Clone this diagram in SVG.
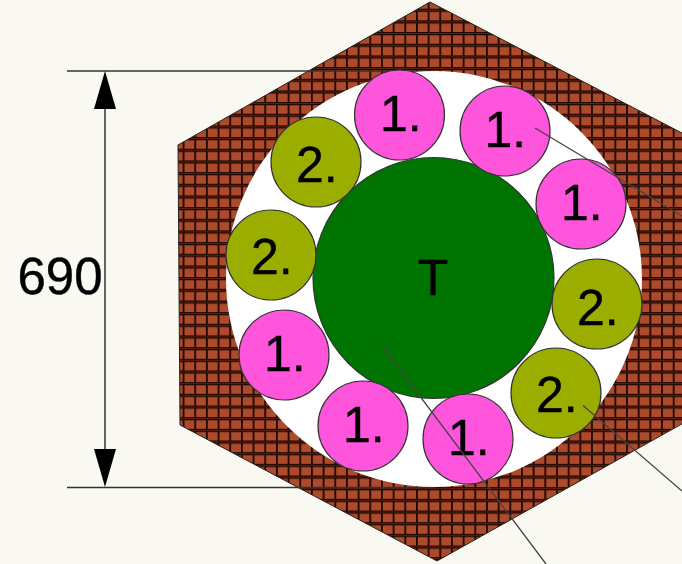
<svg xmlns="http://www.w3.org/2000/svg" width="682" height="564" viewBox="0 0 682 564">
<style>
.c{stroke:#333;stroke-width:1.2}
.p{fill:#ff55dd}
.o{fill:#9bae00}
text{font-family:"Liberation Sans",Arial,sans-serif;font-size:50px;fill:#000;stroke:#000;stroke-width:.4}
.d{stroke:#333;stroke-width:1.5;fill:none}
.l{stroke:#444;stroke-width:1.3;fill:none}
</style>
<defs>
<pattern id="brick" patternUnits="userSpaceOnUse" x="381" y="8.700" width="11.67" height="11.67">
<rect width="11.67" height="11.67" fill="#ad4a2c"/>
<rect y="0" width="11.67" height="3.200" fill="#1c0600"/>
<rect y="1.200" width="11.67" height=".8" fill="#6e2a14"/>
<rect x="0" y="3" width="1.800" height="8.670" fill="#1c0600"/>
</pattern>
</defs>
<rect width="682" height="564" fill="#f9f9f1"/>
<g id="hexagon"><polygon points="430,2 780,184 780,369 437,561 180,425 178,145" fill="url(#brick)" stroke="#222" stroke-width="1"/></g>
<g id="connectors-dim">
<path class="d" d="M67 71H434M67 487.500H434M105 105V453"/>
<polygon points="105,71 116,109 94,109" fill="#000"/>
<polygon points="105,487 116,449 94,449" fill="#000"/>
</g>
<g id="ring"><circle cx="434" cy="279" r="208" fill="#fff"/></g>
<g id="core"><circle cx="433.500" cy="278" r="120.500" fill="#007400" class="c"/><text x="433" y="295" text-anchor="middle">T</text></g>
<g id="n1"><circle class="c p" cx="399.500" cy="115" r="45"/><text x="380" y="131">1.</text></g>
<g id="n2"><circle class="c p" cx="505" cy="131" r="45"/><text x="484.500" y="147">1.</text></g>
<g id="n3"><circle class="c p" cx="581" cy="204" r="45"/><text x="561" y="220">1.</text></g>
<g id="n4"><circle class="c o" cx="597" cy="304" r="45"/><text x="577" y="325">2.</text></g>
<g id="n5"><circle class="c o" cx="556" cy="393" r="45"/><text x="536" y="412">2.</text></g>
<g id="n6"><circle class="c p" cx="468" cy="439" r="45"/><text x="448" y="455">1.</text></g>
<g id="n7"><circle class="c p" cx="363" cy="426" r="45"/><text x="343" y="442">1.</text></g>
<g id="n8"><circle class="c p" cx="284" cy="355" r="45"/><text x="264" y="371">1.</text></g>
<g id="n9"><circle class="c o" cx="271" cy="255" r="45"/><text x="251" y="274">2.</text></g>
<g id="n10"><circle class="c o" cx="316" cy="162" r="45"/><text x="296" y="182">2.</text></g>
<g id="connectors">
<path class="l" d="M535 128L682 216M583 405.500L682 491M383 347L546 564"/>
</g>
<g id="dim-label"><text x="17.500" y="293.500" style="font-size:51px">690</text></g>
</svg>
